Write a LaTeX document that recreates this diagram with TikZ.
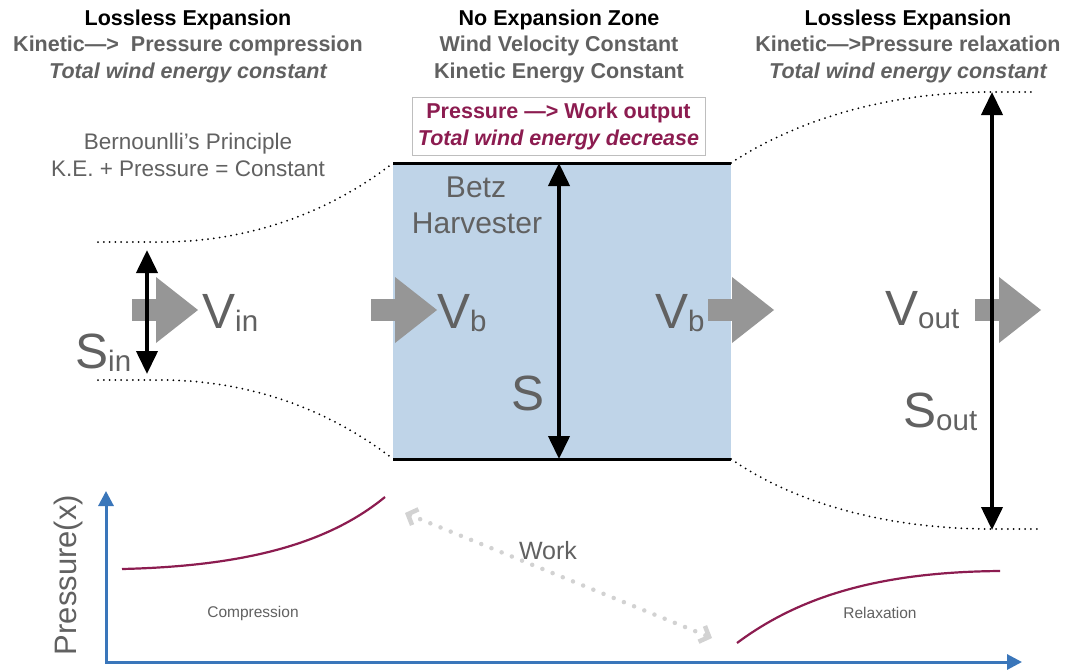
\documentclass[tikz,border=0pt]{standalone}
\usepackage{fontspec}
\setmainfont{Liberation Sans}
\usetikzlibrary{arrows.meta}
\definecolor{txtgray}{RGB}{97,97,97}
\definecolor{wine}{RGB}{140,28,80}
\definecolor{boxblue}{RGB}{191,212,232}
\definecolor{axisblue}{RGB}{58,118,186}
\definecolor{arrgray}{RGB}{150,150,150}
\definecolor{workgray}{RGB}{210,210,210}
\definecolor{framegray}{RGB}{190,190,190}
\newcommand{\fsl}[2]{\fontsize{#1}{#2}\selectfont}
\newcommand{\lowsub}[1]{\raisebox{-3pt}{\fsl{29.5}{29.5}#1}}
\begin{document}
\begin{tikzpicture}[x=1pt,y=-1pt,
  title/.style={font=\fsl{21.5}{26}\bfseries, text=black, anchor=base, inner sep=0},
  subtitle/.style={font=\fsl{21.5}{26}\bfseries, text=txtgray, anchor=base, inner sep=0},
  subit/.style={font=\fsl{21.5}{26}\bfseries\itshape, text=txtgray, anchor=base, inner sep=0},
  plain/.style={font=\fsl{22.5}{26}, text=txtgray, anchor=base, inner sep=0},
  big/.style={font=\fsl{49.5}{49.5}, text=txtgray, anchor=base west, inner sep=0},
  dimarrow/.style={line width=4pt, {Triangle[width=21pt,length=23pt]}-{Triangle[width=21pt,length=23pt]}},
  bound/.style={line width=2pt, line cap=round, dash pattern=on 0pt off 5.8pt},
  curve/.style={wine, line width=2.2pt},
  blockarr/.pic={
    \fill[arrgray] (0,299) rectangle (25,321);
    \fill[arrgray] (24,277) -- (66,310) -- (24,343) -- cycle;
  },
]
\fill[white] (0,0) rectangle (1070,669);
\useasboundingbox (0,0) rectangle (1070,669);

% titles
\node[title] (lt1) at (188,26) {Lossless Expansion};
\node[subtitle] (lt2) at (188,52) {Kinetic—>\ \ Pressure compression};
\node[subit] (lt3) at (188,78) {Total wind energy constant};
\node[title] (ct1) at (559,26) {No Expansion Zone};
\node[subtitle] (ct2) at (559,52) {Wind Velocity Constant};
\node[subtitle] (ct3) at (559,78) {Kinetic Energy Constant};
\node[title] (rt1) at (908,26) {Lossless Expansion};
\node[subtitle] (rt2) at (908,52) {Kinetic—>Pressure relaxation};
\node[subit] (rt3) at (908,78) {Total wind energy constant};

\node[plain] (bern1) at (188,149) {Bernounlli’s Principle};
\node[plain] (bern2) at (188,176) {K.E. + Pressure = Constant};

% work output box
\node[draw=framegray, line width=0.8pt, minimum width=293pt, minimum height=58pt,
      inner sep=0, align=center, font=\fsl{21.5}{27}\bfseries, text=wine]
  (workbox) at (558.5,126) {Pressure —> Work output\\{\itshape Total wind energy decrease}};

% harvester
\coordinate (htl) at (393,163);
\coordinate (htr) at (731,163);
\coordinate (hbl) at (393,459);
\coordinate (hbr) at (731,459);
\fill[boxblue] (htl) rectangle (hbr);
\draw[line width=3pt] (htl) -- (htr);
\draw[line width=3pt] (hbl) -- (hbr);
\node[font=\fsl{30}{30}, text=txtgray, anchor=base, inner sep=0] (betz) at (476,197) {Betz};
\node[font=\fsl{30}{30}, text=txtgray, anchor=base, inner sep=0] (harv) at (477,233) {Harvester};

% stream boundaries
\coordinate (inU) at (98,242);
\coordinate (inL) at (98,380);
\coordinate (outU) at (1035,92);
\coordinate (outL) at (1040,529);
\draw[bound] (inU) -- (160,242) .. controls (250,242) and (330,212) .. (htl);
\draw[bound] (inL) -- (160,380) .. controls (250,380) and (330,410) .. (hbl);
\draw[bound] (htr) .. controls (790,124) and (880,92) .. (992,92) -- (outU);
\draw[bound] (hbr) .. controls (790,500) and (880,529) .. (992,529) -- (outL);

% velocity arrows
\pic at (132,0) {blockarr};
\pic at (371,0) {blockarr};
\pic at (708,0) {blockarr};
\pic at (975,0) {blockarr};

% dimension arrows
\coordinate (sinT) at (147,250);
\coordinate (sinB) at (147,374);
\coordinate (sT) at (559,163);
\coordinate (sB) at (559,459);
\coordinate (soutT) at (992,92);
\coordinate (soutB) at (992,530);
\draw[dimarrow] (sinT) -- (sinB);
\draw[dimarrow] (sT) -- (sB);
\draw[dimarrow] (soutT) -- (soutB);

% labels
\node[big] (vin) at (202,328) {V\lowsub{in}};
\node[big] (sin) at (75,368) {S\lowsub{in}};
\node[big] (vb1) at (437,328) {V\lowsub{b}};
\node[big] (vb2) at (655,328) {V\lowsub{b}};
\node[big] (s) at (511,410) {S};
\node[big] (vout) at (885,325) {V\lowsub{out}};
\node[big] (sout) at (903,427) {S\lowsub{out}};

% pressure chart
\coordinate (origin) at (106,662);
\coordinate (ytip) at (106,491);
\coordinate (xtip) at (1022,662);
\draw[axisblue, line width=3pt, line join=miter,
      {Triangle[width=15pt,length=15pt]}-{Triangle[width=15pt,length=15pt]}]
  (ytip) -- (origin) -- (xtip);
\node[rotate=90, font=\fsl{31}{31}, text=txtgray, inner sep=0] (plabel) at (68,575) {Pressure(x)};

\coordinate (c1) at (122,569);
\coordinate (c2) at (385,497);
\coordinate (r1) at (737,643);
\coordinate (r2) at (1000,571);
\draw[curve] (c1) .. controls (250,566) and (330,542) .. (c2);
\draw[curve] (r1) .. controls (800,596) and (880,572) .. (r2);
\node[font=\fsl{15.5}{15.5}, text=txtgray, inner sep=0] (comp) at (253,613) {Compression};
\node[font=\fsl{15.5}{15.5}, text=txtgray, inner sep=0] (relax) at (880,613) {Relaxation};

% work arrow
\coordinate (w1) at (405,513);
\coordinate (w2) at (712,638);
\draw[workgray, line width=4.5pt, line cap=round, dash pattern=on 0pt off 11pt,
      {Straight Barb[length=8pt,width=17pt]}-{Straight Barb[length=8pt,width=17pt]}] (w1) -- (w2);
\node[font=\fsl{25}{25}, text=txtgray, inner sep=0] (work) at (548,551) {Work};
\end{tikzpicture}
\end{document}
